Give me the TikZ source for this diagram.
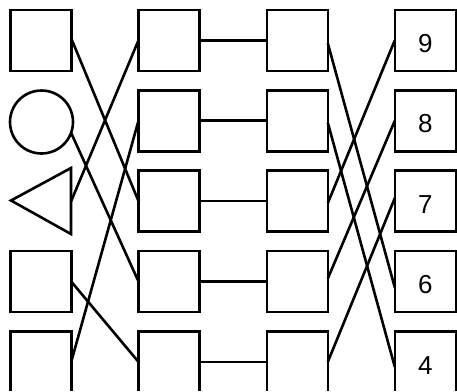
\documentclass[tikz,border=0pt]{standalone}
\usepackage{fontspec}
\setmainfont{Liberation Sans}
\begin{document}
\begin{tikzpicture}[x=1pt,y=-1pt,
  box/.style={draw, line width=2.6pt, minimum width=61pt, minimum height=61pt,
    inner sep=0pt, outer sep=0pt, font=\fontsize{26}{31}\selectfont, text height=24.5pt},
  ring/.style={draw, circle, line width=2.6pt, minimum size=63pt, inner sep=0pt, outer sep=0pt},
  wire/.style={line width=2.6pt}]
\useasboundingbox (0,0) rectangle (457,391);
\clip (0,0) rectangle (457,390);
% column 1
\node[box] (a1) at (40.7,40.3) {};
\node[ring] (a2) at (41.5,122) {};
\draw[line width=2.6pt, line join=miter] (71,168) -- (11,200.5) -- (71,234) -- cycle;
\coordinate (a3) at (71,201.5);
\node[box] (a4) at (40.7,281.5) {};
\node[box] (a5) at (40.7,361.9) {};
% column 2
\node[box] (b1) at (169,40.3) {};
\node[box] (b2) at (169,120.7) {};
\node[box] (b3) at (169,201.1) {};
\node[box] (b4) at (169,281.5) {};
\node[box] (b5) at (169,361.9) {};
% column 3
\node[box] (c1) at (297.3,40.3) {};
\node[box] (c2) at (297.3,120.7) {};
\node[box] (c3) at (297.3,201.1) {};
\node[box] (c4) at (297.3,281.5) {};
\node[box] (c5) at (297.3,361.9) {};
% column 4
\node[box] (d1) at (425.3,40.3) {9};
\node[box] (d2) at (425.3,120.7) {8};
\node[box] (d3) at (425.3,201.1) {7};
\node[box] (d4) at (425.3,281.5) {6};
\node[box] (d5) at (425.3,361.9) {4};
% connectors col1 -> col2
\draw[wire] ([yshift=2pt]a1.east) -- (b3.west);
\draw[wire] (a2.-20) -- (b4.west);
\draw[wire] (a3) -- (b1.west);
\draw[wire] (a4.east) -- (b5.west);
\draw[wire] (a5.east) -- (b2.west);
% col2 -> col3
\foreach \i in {1,...,5} { \draw[wire] (b\i.east) -- (c\i.west); }
% col3 -> col4
\draw[wire] ([yshift=-3pt]c1.east) -- ([yshift=-6pt]d4.west);
\draw[wire] ([yshift=-2pt]c2.east) -- ([yshift=-5pt]d5.west);
\draw[wire] ([yshift=-2pt]c3.east) -- (d1.west);
\draw[wire] ([yshift=3pt]c4.east) -- (d2.west);
\draw[wire] (c5.east) -- ([yshift=3pt]d3.west);
\end{tikzpicture}
\end{document}
